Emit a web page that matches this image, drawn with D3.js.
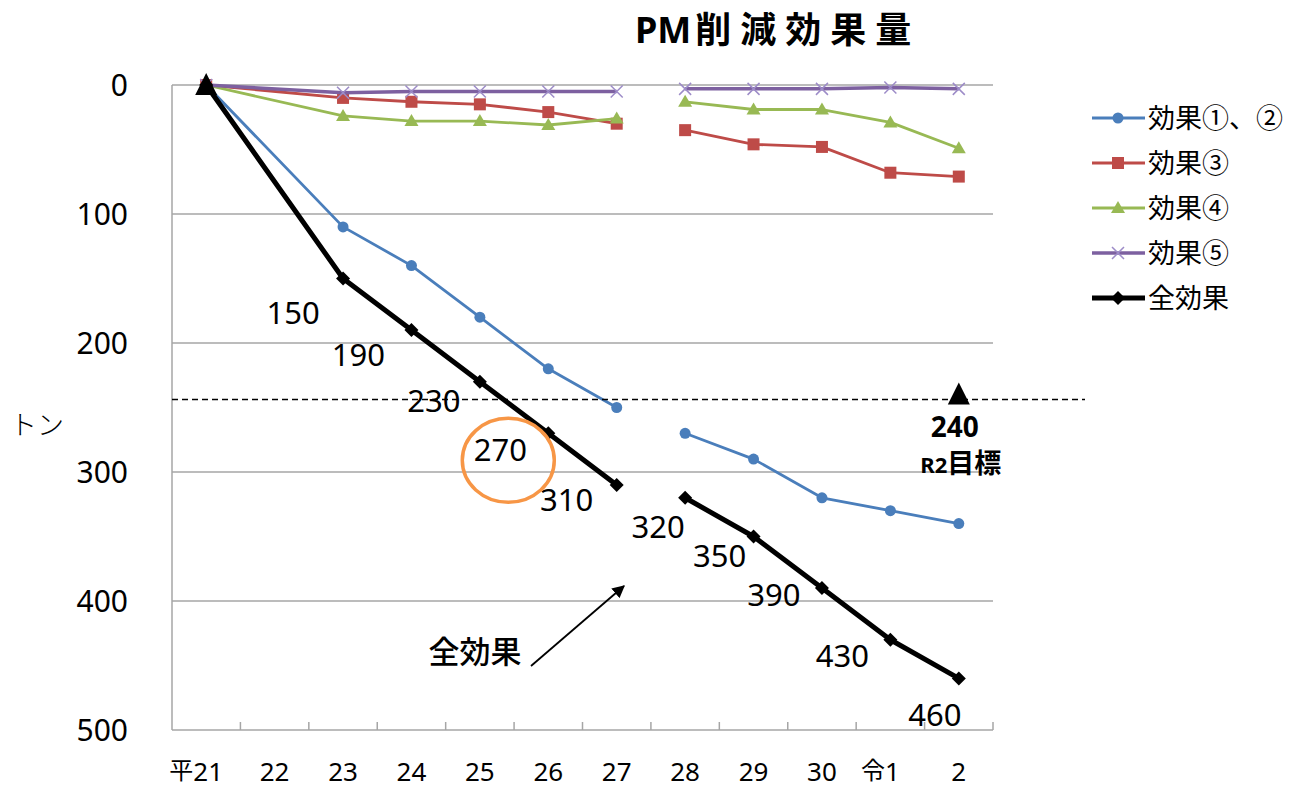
<!DOCTYPE html>
<html>
<head>
<meta charset="utf-8">
<script src="https://cdn.jsdelivr.net/npm/d3@7"></script>
<style>
  html, body { margin: 0; padding: 0; background: #ffffff; }
  svg { display: block; }
</style>
</head>
<body>
<svg id="chart" width="1297" height="792"></svg>
<script>
// ---------------- DATA ----------------
const categories = ["平21", "22", "23", "24", "25", "26", "27", "28", "29", "30", "令1", "2"];
const effect12   = [0, null, 110, 140, 180, 220, 250, 270, 290, 320, 330, 340];
const effect3    = [0, null, 10, 13, 15, 21, 30, 35, 46, 48, 68, 71];
const effect4    = [0, null, 24, 28, 28, 31, 26, 13, 19, 19, 29, 49];
const effect5    = [0, null, 6, 5, 5, 5, 5, 3, 3, 3, 2, 3];
const totalEffect = [0, null, 150, 190, 230, 270, 310, 320, 350, 390, 430, 460];
const targetValues = [0, null, null, null, null, null, null, null, null, null, null, 240];
const seriesNames = ["効果①、②", "効果③", "効果④", "効果⑤", "全効果"];
const yTicks = [0, 100, 200, 300, 400, 500];
const breakAfter = "27";           // the lines are broken between 27 and 28
const titleLatin = "PM";
const titleCJK = "削減効果量";
const yAxisTitle = "トン";
const targetLabel = "240";
const targetCaptionA = "R2";
const targetCaptionB = "目標";
const arrowLabel = "全効果";

// ---------------- LAYOUT ----------------
const svg = d3.select("#chart");
const plot = { left: 172, right: 993, top: 85, bottom: 730 };
const x = d3.scaleBand().domain(categories).range([plot.left, plot.right]).padding(0);
const cx = c => x(c) + x.bandwidth() / 2;
const y = d3.scaleLinear().domain([0, 500]).range([plot.top, plot.bottom]);

const numFont = "'Noto Sans', 'Liberation Sans', sans-serif";
const cjkFont = "'Noto Sans CJK JP', 'Noto Sans', sans-serif";
const gridColor = "#a6a6a6";

// gridlines
svg.append("g").selectAll("line").data(yTicks.filter(t => t < 500)).join("line")
  .attr("x1", plot.left).attr("x2", plot.right)
  .attr("y1", d => y(d)).attr("y2", d => y(d))
  .attr("stroke", gridColor).attr("stroke-width", 1.5);

// axes frame (left, bottom)
svg.append("line").attr("x1", plot.left).attr("x2", plot.left)
  .attr("y1", y(0)).attr("y2", y(500)).attr("stroke", gridColor).attr("stroke-width", 1.5);
svg.append("line").attr("x1", plot.left).attr("x2", plot.right)
  .attr("y1", y(500)).attr("y2", y(500)).attr("stroke", gridColor).attr("stroke-width", 1.5);

// x tick marks at category boundaries (inside)
const boundaries = categories.map(c => x(c)).concat([x(categories[categories.length - 1]) + x.bandwidth()]);
svg.append("g").selectAll("line").data(boundaries.slice(1)).join("line")
  .attr("x1", d => d).attr("x2", d => d)
  .attr("y1", y(500) - 8).attr("y2", y(500))
  .attr("stroke", gridColor).attr("stroke-width", 1.5);

// y tick labels via axis
const yAxis = svg.append("g").attr("transform", `translate(${plot.left - 44},0)`)
  .call(d3.axisLeft(y).tickValues(yTicks).tickSize(0).tickPadding(0));
yAxis.select(".domain").remove();
yAxis.selectAll("text").attr("font-family", numFont).attr("font-size", 30).attr("fill", "#000")
  .attr("dy", "0.35em");

// x labels
const xl = svg.append("g").selectAll("text").data(categories).join("text")
  .attr("x", d => cx(d) - (/^\D/.test(d) ? 10 : 0))
  .attr("y", 781)
  .attr("text-anchor", "middle")
  .attr("font-family", numFont).attr("font-size", 26).attr("fill", "#000");
xl.each(function(d) {
  const t = d3.select(this);
  const m = d.match(/^(\D*)(\d+)$/);
  if (m[1]) t.append("tspan").attr("font-family", cjkFont).attr("font-size", 24).attr("dy", -2).text(m[1]);
  t.append("tspan").attr("dy", m[1] ? 2 : 0).text(m[2]);
});

// y axis title
svg.append("text").attr("x", 37).attr("y", 435).attr("text-anchor", "middle")
  .attr("font-family", cjkFont).attr("font-size", 27).attr("font-weight", 300).attr("fill", "#000").text(yAxisTitle);

// title
const title = svg.append("text").attr("x", 635).attr("y", 43).attr("font-weight", "bold").attr("fill", "#000");
title.append("tspan").attr("font-family", numFont).attr("font-size", 36).text(titleLatin);
title.append("tspan").attr("font-family", cjkFont).attr("font-size", 36).attr("letter-spacing", 9).attr("dx", 4).text(titleCJK);

// ---------------- SERIES ----------------
const breakIdx = categories.indexOf(breakAfter);
function segments(values) {
  const pts = categories.map((c, i) => ({ c, v: values[i], i })).filter(p => p.v != null);
  return [pts.filter(p => p.i <= breakIdx), pts.filter(p => p.i > breakIdx)].filter(s => s.length > 1);
}
const line = d3.line().x(p => cx(p.c)).y(p => y(p.v));

const series = [
  { name: seriesNames[0], values: effect12, color: "#4a7ebb", width: 2.8, marker: "circle" },
  { name: seriesNames[1], values: effect3, color: "#be4b48", width: 2.8, marker: "square" },
  { name: seriesNames[2], values: effect4, color: "#98b954", width: 2.8, marker: "triangle" },
  { name: seriesNames[3], values: effect5, color: "#7d60a0", width: 3.5, marker: "x", markerColor: "#9d8cc8" },
  { name: seriesNames[4], values: totalEffect, color: "#000000", width: 5, marker: "diamond" }
];

function drawMarker(g, type, px, py, color) {
  if (type === "circle") {
    g.append("circle").attr("cx", px).attr("cy", py).attr("r", 5.5).attr("fill", color);
  } else if (type === "square") {
    g.append("rect").attr("x", px - 6).attr("y", py - 6).attr("width", 12).attr("height", 12).attr("fill", color);
  } else if (type === "triangle") {
    g.append("path").attr("d", `M${px},${py - 7}L${px + 7},${py + 5}L${px - 7},${py + 5}Z`).attr("fill", color);
  } else if (type === "x") {
    g.append("path").attr("d", `M${px - 6},${py - 6}L${px + 6},${py + 6}M${px - 6},${py + 6}L${px + 6},${py - 6}`)
      .attr("stroke", color).attr("stroke-width", 1.5).attr("fill", "none");
  } else if (type === "diamond") {
    g.append("path").attr("d", `M${px},${py - 7}L${px + 7},${py}L${px},${py + 7}L${px - 7},${py}Z`).attr("fill", color);
  } else if (type === "bigTriangle") {
    g.append("path").attr("d", `M${px},${py - 12}L${px + 11},${py + 10}L${px - 11},${py + 10}Z`).attr("fill", color);
  }
}

series.forEach(s => {
  const g = svg.append("g");
  segments(s.values).forEach(seg => {
    g.append("path").attr("d", line(seg)).attr("fill", "none")
      .attr("stroke", s.color).attr("stroke-width", s.width).attr("stroke-linejoin", "round");
  });
  categories.forEach((c, i) => {
    if (s.values[i] != null) drawMarker(g, s.marker, cx(c), y(s.values[i]), s.markerColor || s.color);
  });
});

// target markers and dashed line
const tg = svg.append("g");
tg.append("line").attr("x1", plot.left).attr("x2", 1085)
  .attr("y1", y(targetValues[11]) + 5).attr("y2", y(targetValues[11]) + 5)
  .attr("stroke", "#000").attr("stroke-width", 1.5).attr("stroke-dasharray", "6,4");
categories.forEach((c, i) => {
  if (targetValues[i] != null) drawMarker(tg, "bigTriangle", cx(c), y(targetValues[i]), "#000");
});
const tIdx = targetValues.length - 1;
const tx = cx(categories[tIdx]);
const tText = tg.append("text").attr("x", tx - 4).attr("y", y(targetValues[tIdx]) + 42)
  .attr("text-anchor", "middle").attr("font-weight", "bold").attr("fill", "#000");
tText.append("tspan").attr("font-family", numFont).attr("font-size", 28).text(targetLabel);
tText.append("tspan").attr("x", tx + 2).attr("dy", 36).attr("font-family", numFont).attr("font-size", 22).text(targetCaptionA);
tText.append("tspan").attr("font-family", cjkFont).attr("font-size", 27).text(targetCaptionB);

// data labels for total effect
const labelOffsets = [null, null, [-50, 34], [-53, 25], [-46, 19], [-48, 17], [-50, 15], [-27, 29], [-34, 19], [-48, 7], [-48, 16], [-24, 36]];
svg.append("g").selectAll("text").data(categories.map((c, i) => ({ c, v: totalEffect[i], o: labelOffsets[i] })).filter(d => d.v != null && d.o))
  .join("text")
  .attr("x", d => cx(d.c) + d.o[0]).attr("y", d => y(d.v) + d.o[1])
  .attr("dy", "0.36em").attr("text-anchor", "middle")
  .attr("font-family", numFont).attr("font-size", 31).attr("fill", "#000")
  .text(d => d.v);

// orange circle around 270
const hi = categories.indexOf("26");
svg.append("ellipse").attr("cx", cx(categories[hi]) - 40).attr("cy", y(totalEffect[hi]) + 27)
  .attr("rx", 46).attr("ry", 42).attr("fill", "none").attr("stroke", "#f79646").attr("stroke-width", 3.5);

// arrow annotation
svg.append("defs").append("marker").attr("id", "arrowhead")
  .attr("viewBox", "0 0 10 10").attr("refX", 9).attr("refY", 5)
  .attr("markerWidth", 7).attr("markerHeight", 7).attr("orient", "auto-start-reverse")
  .attr("markerUnits", "strokeWidth")
  .append("path").attr("d", "M0,0L10,5L0,10Z").attr("fill", "#000");
svg.append("line").attr("x1", 531).attr("y1", 666).attr("x2", 624).attr("y2", 586)
  .attr("stroke", "#000").attr("stroke-width", 1.8).attr("marker-end", "url(#arrowhead)");
svg.append("text").attr("x", 475).attr("y", 663).attr("text-anchor", "middle")
  .attr("font-family", cjkFont).attr("font-size", 31).attr("font-weight", 500).text(arrowLabel);

// legend
const lg = svg.append("g");
series.forEach((s, i) => {
  const ly = 118 + i * 45;
  lg.append("line").attr("x1", 1092).attr("x2", 1145).attr("y1", ly).attr("y2", ly)
    .attr("stroke", s.color).attr("stroke-width", s.width);
  drawMarker(lg, s.marker, 1118, ly, s.markerColor || s.color);
  lg.append("text").attr("x", 1148).attr("y", ly).attr("dy", "0.36em")
    .attr("font-family", cjkFont).attr("font-size", 27).attr("fill", "#000").text(s.name);
});
</script>
</body>
</html>
